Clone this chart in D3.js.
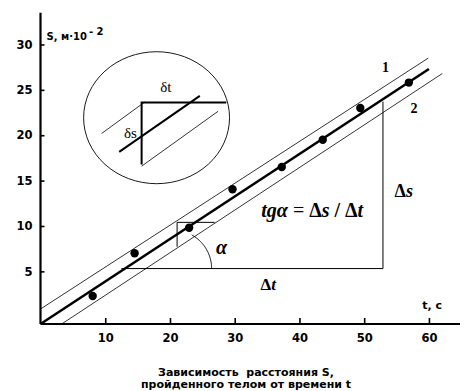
<!DOCTYPE html>
<html><head><meta charset="utf-8">
<script src="https://cdn.jsdelivr.net/npm/d3@7"></script>
<style>
html,body{margin:0;padding:0;background:#fff;}
svg{display:block;}
text{white-space:pre;}
</style></head>
<body>
<svg id="c" width="473" height="391"></svg>
<script>
// ---- data ----
const xTicks = [10, 20, 30, 40, 50, 60];
const yTicks = [5, 10, 15, 20, 25, 30];
const pointsT = [8.06, 14.54, 22.96, 29.66, 37.27, 43.6, 49.4, 56.9];
const pointsS = [2.29, 6.99, 9.81, 14.04, 16.5, 19.5, 23.0, 25.8];
const mainLine = [[0, -0.8], [60, 27.3]];
const line1 = [[0, 0.85], [59.9, 28.5]];
const line2 = [[3.27, -0.8], [62.07, 26.8]];
const bigTriangle = [[12.5, 5.31], [52.9, 5.31], [52.9, 23.7]];
const smallBox = [[26.9, 10.4], [21.1, 10.4], [21.1, 7.72]];
const arcCenter = [20.5, 5.31];
const arcRadiusT = 5.93;
const arcAnglesDeg = [0, 61];
const insetEllipse = {center: [17.93, 21.93], rt: 11.27, rs: 7.27};
const insetCorner = [[15.62, 16.77], [15.62, 23.6], [28.7, 23.6]];
const insetThick = [[12.16, 18.16], [24.61, 24.33]];
const insetThinUpper = [[9.44, 20.19], [16.13, 23.67]];
const insetThinLower = [[15.62, 16.59], [27.44, 22.64]];
const titleLines = ["Зависимость  расстояния S,", "пройденного телом от времени t"];
const yLabel = "S, м·10";
const yLabelExp = "- 2";
const xLabel = "t, c";
const lineLabels = [["1", 53.3, 27.0], ["2", 57.7, 22.5]];
const insetLabels = [["δt", 18.5, 24.8], ["δs", 12.9, 19.7]];

// ---- scales ----
const svg = d3.select("#c");
const x = d3.scaleLinear().domain([0, 64.8]).range([40.5, 460]);
const y = d3.scaleLinear().domain([-0.8, 33.5]).range([324, 12.7]);
const line = d3.line().x(d => x(d[0])).y(d => y(d[1]));

// ---- axes ----
const xAxis = d3.axisBottom(x).tickValues(xTicks).tickSize(-6).tickPadding(10).tickFormat(d3.format("d"));
const gx = svg.append("g").attr("transform", `translate(0,${y(-0.8)})`).call(xAxis);
const yAxis = d3.axisLeft(y).tickValues(yTicks).tickSize(-4).tickPadding(8).tickFormat(d3.format("d"));
const gy = svg.append("g").attr("transform", `translate(${x(0)},0)`).call(yAxis);
[gx, gy].forEach(g => {
  g.select(".domain").attr("stroke", "#000").attr("stroke-width", 2.2);
  g.selectAll(".tick line").attr("stroke", "#000").attr("stroke-width", 1.6);
  g.selectAll(".tick text").attr("fill", "#000")
    .style("font-family", "'DejaVu Sans', sans-serif").style("font-weight", "bold").style("font-size", "11.5px");
});
gx.select(".domain").attr("d", `M${x(0)},0H${x(64.8)}`);
gy.select(".domain").attr("d", `M0,${y(-0.8)}V${y(33.5)}`);

// ---- fit lines ----
svg.append("path").attr("d", line(line1)).attr("fill", "none").attr("stroke", "#000").attr("stroke-width", 0.8);
svg.append("path").attr("d", line(line2)).attr("fill", "none").attr("stroke", "#000").attr("stroke-width", 0.8);
svg.append("path").attr("d", line(mainLine)).attr("fill", "none").attr("stroke", "#000").attr("stroke-width", 2.6);

// ---- triangle and small box ----
svg.append("path").attr("d", line(bigTriangle)).attr("fill", "none").attr("stroke", "#000").attr("stroke-width", 1);
svg.append("path").attr("d", line(smallBox)).attr("fill", "none").attr("stroke", "#000").attr("stroke-width", 1);

// ---- alpha arc ----
const rPx = x(arcCenter[0] + arcRadiusT) - x(arcCenter[0]);
const arcPts = d3.range(arcAnglesDeg[0], arcAnglesDeg[1] + 0.5, 1).map(a => {
  const r = a * Math.PI / 180;
  return [x(arcCenter[0]) + rPx * Math.cos(r), y(arcCenter[1]) - rPx * Math.sin(r)];
});
svg.append("path").attr("d", d3.line()(arcPts)).attr("fill", "none").attr("stroke", "#000").attr("stroke-width", 1);

// ---- points ----
svg.selectAll("circle.pt").data(pointsT.map((t, i) => [t, pointsS[i]])).join("circle")
  .attr("class", "pt").attr("cx", d => x(d[0])).attr("cy", d => y(d[1])).attr("r", 4.2).attr("fill", "#000");

// ---- inset ----
const ec = insetEllipse.center;
svg.append("ellipse").attr("cx", x(ec[0])).attr("cy", y(ec[1]))
  .attr("rx", x(ec[0] + insetEllipse.rt) - x(ec[0])).attr("ry", y(ec[1] - insetEllipse.rs) - y(ec[1]))
  .attr("fill", "none").attr("stroke", "#000").attr("stroke-width", 0.9);
svg.append("path").attr("d", line(insetThinUpper)).attr("fill", "none").attr("stroke", "#000").attr("stroke-width", 0.8);
svg.append("path").attr("d", line(insetThinLower)).attr("fill", "none").attr("stroke", "#000").attr("stroke-width", 0.8);
svg.append("path").attr("d", line(insetThick)).attr("fill", "none").attr("stroke", "#000").attr("stroke-width", 2);
svg.append("path").attr("d", line(insetCorner)).attr("fill", "none").attr("stroke", "#000").attr("stroke-width", 2);
const serif = "'Liberation Serif', 'Times New Roman', serif";
svg.selectAll("text.il").data(insetLabels).join("text").attr("class", "il")
  .attr("x", d => x(d[1])).attr("y", d => y(d[2])).attr("fill", "#000")
  .style("font-family", serif).style("font-size", "15px").text(d => d[0]);

// ---- labels ----
svg.selectAll("text.ll").data(lineLabels).join("text").attr("class", "ll")
  .attr("x", d => x(d[1])).attr("y", d => y(d[2])).attr("text-anchor", "middle").attr("fill", "#000")
  .style("font-family", serif).style("font-weight", "bold").style("font-size", "14px").text(d => d[0]);

const yl = svg.append("text").attr("x", x(0) + 6).attr("y", y(30) - 4)
  .style("font-family", "'DejaVu Sans', sans-serif").style("font-weight", "bold").style("font-size", "10px");
yl.append("tspan").text(yLabel);
yl.append("tspan").attr("dx", 2).attr("dy", -5).text(yLabelExp);

svg.append("text").attr("x", x(60.5)).attr("y", y(-0.8) - 15).attr("text-anchor", "middle")
  .style("font-family", "'DejaVu Sans', sans-serif").style("font-weight", "bold").style("font-size", "11px").text(xLabel);

// delta labels
const ds = svg.append("text").attr("x", x(54.7)).attr("y", y(13.2))
  .style("font-family", serif).style("font-weight", "bold").style("font-size", "18px");
ds.append("tspan").text("Δ");
ds.append("tspan").style("font-style", "italic").text("s");

const dt = svg.append("text").attr("x", x(34.0)).attr("y", y(3.0))
  .style("font-family", serif).style("font-weight", "bold").style("font-size", "17px");
dt.append("tspan").text("Δ");
dt.append("tspan").style("font-style", "italic").text("t");

const fm = svg.append("text").attr("x", x(34.1)).attr("y", y(11.0))
  .style("font-family", serif).style("font-weight", "bold").style("font-size", "20px");
fm.append("tspan").style("font-style", "italic").text("tgα");
fm.append("tspan").style("font-weight", "normal").text(" = ");
fm.append("tspan").text("Δ");
fm.append("tspan").style("font-style", "italic").text("s");
fm.append("tspan").text(" / Δ");
fm.append("tspan").style("font-style", "italic").text("t");

svg.append("text").attr("x", x(27.1)).attr("y", y(6.9))
  .style("font-family", serif).style("font-weight", "bold").style("font-style", "italic").style("font-size", "20px").text("α");

// ---- title ----
svg.selectAll("text.tt").data(titleLines).join("text").attr("class", "tt")
  .attr("x", 246).attr("y", (d, i) => 376 + i * 12).attr("text-anchor", "middle")
  .style("font-family", "'DejaVu Sans', sans-serif").style("font-weight", "bold").style("font-size", "11px").text(d => d);
</script>
</body></html>
